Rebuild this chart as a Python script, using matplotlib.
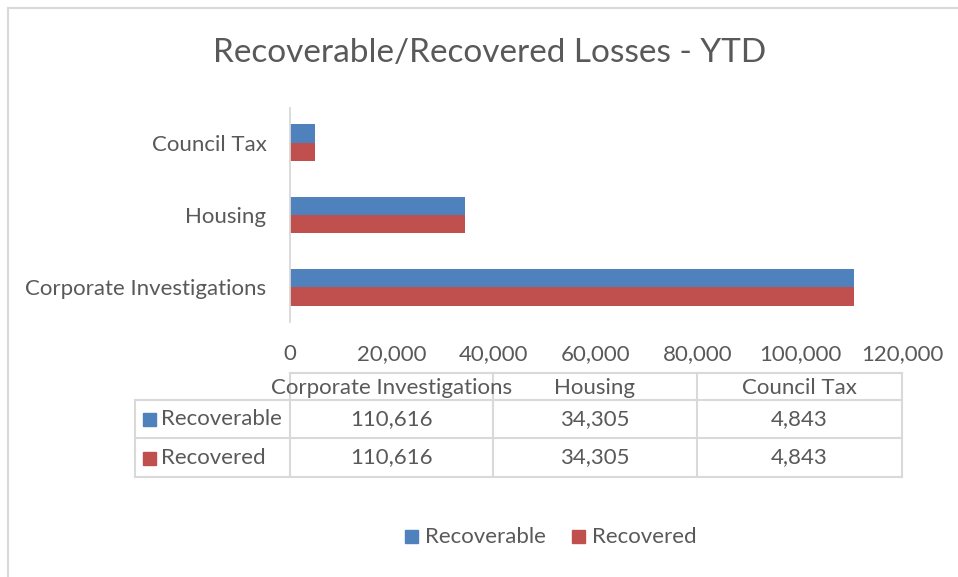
import matplotlib.pyplot as plt
from matplotlib.patches import Rectangle
from matplotlib.lines import Line2D
import numpy as np

categories = ["Corporate Investigations", "Housing", "Council Tax"]
recoverable = [110616, 34305, 4843]
recovered = [110616, 34305, 4843]
series_names = ["Recoverable", "Recovered"]
xticks = [0, 20000, 40000, 60000, 80000, 100000, 120000]

blue = "#4F81BD"
red = "#C0504D"
txt = "#595959"
grid = "#D9D9D9"

plt.rcParams['font.family'] = ['Lato', 'DejaVu Sans']

W, H = 958, 577
fig = plt.figure(figsize=(W / 100, H / 100), dpi=100)


def fx(px):
    return px / W


def fy(py):
    return 1 - py / H


# outer chart border
fig.add_artist(Line2D([fx(8), fx(8)], [fy(8), 0], color=grid, lw=1.5))
fig.add_artist(Line2D([fx(8), 1], [fy(8), fy(8)], color=grid, lw=1.5))

fig.text(fx(490), fy(53), "Recoverable/Recovered Losses - YTD", ha="center", va="center",
         fontsize=24, color=txt)

# bar area
ax = fig.add_axes([fx(290), fy(322), fx(902) - fx(290), fy(108) - fy(322)])
y = np.arange(len(categories))
h = 0.255
ax.barh(y + h / 2, recoverable, height=h, color=blue)
ax.barh(y - h / 2, recovered, height=h, color=red)
ax.set_xlim(0, 120000)
ax.set_ylim(-0.48, 2.48)
ax.set_yticks(y)
ax.set_yticklabels(categories, fontsize=16, color=txt)
ax.set_xticks(xticks)
ax.set_xticklabels([f"{v:,}" for v in xticks], fontsize=16, color=txt)
ax.tick_params(axis="both", length=0)
ax.tick_params(axis="y", pad=17)
ax.tick_params(axis="x", pad=16)
for s in ["top", "right", "bottom"]:
    ax.spines[s].set_visible(False)
ax.spines["left"].set_color(grid)
ax.spines["left"].set_linewidth(1.3)

# data table
tax = fig.add_axes([0, 0, 1, 1])
tax.set_xlim(0, W)
tax.set_ylim(H, 0)
tax.axis("off")
col_x = [290, 493, 697, 902]
row_y = [373, 400, 438, 477]
lab_x = 135
lc = dict(color=grid, lw=1.5)
tax.plot([col_x[0], col_x[-1]], [row_y[0], row_y[0]], **lc)
for yy in row_y[1:]:
    tax.plot([lab_x, col_x[-1]], [yy, yy], **lc)
for xx in col_x:
    tax.plot([xx, xx], [row_y[0], row_y[-1]], **lc)
tax.plot([lab_x, lab_x], [row_y[1], row_y[-1]], **lc)

for i, c in enumerate(categories):
    cx = (col_x[i] + col_x[i + 1]) / 2
    tax.text(cx, (row_y[0] + row_y[1]) / 2 + 1, c, ha="center", va="center", fontsize=16, color=txt)
for r, (name, vals, col) in enumerate(zip(series_names, [recoverable, recovered], [blue, red])):
    cy = (row_y[r + 1] + row_y[r + 2]) / 2
    tax.add_patch(Rectangle((143, cy - 6), 13, 13, color=col))
    tax.text(161, cy, name, ha="left", va="center", fontsize=16, color=txt)
    for i, v in enumerate(vals):
        cx = (col_x[i] + col_x[i + 1]) / 2
        tax.text(cx, cy, f"{v:,}", ha="center", va="center", fontsize=16, color=txt)

# legend
for name, col, x0 in zip(series_names, [blue, red], [405, 572]):
    tax.add_patch(Rectangle((x0, 530), 13, 13, color=col))
    tax.text(x0 + 20, 537, name, ha="left", va="center", fontsize=16, color=txt)

fig.savefig("out.png", dpi=100, facecolor="white")
